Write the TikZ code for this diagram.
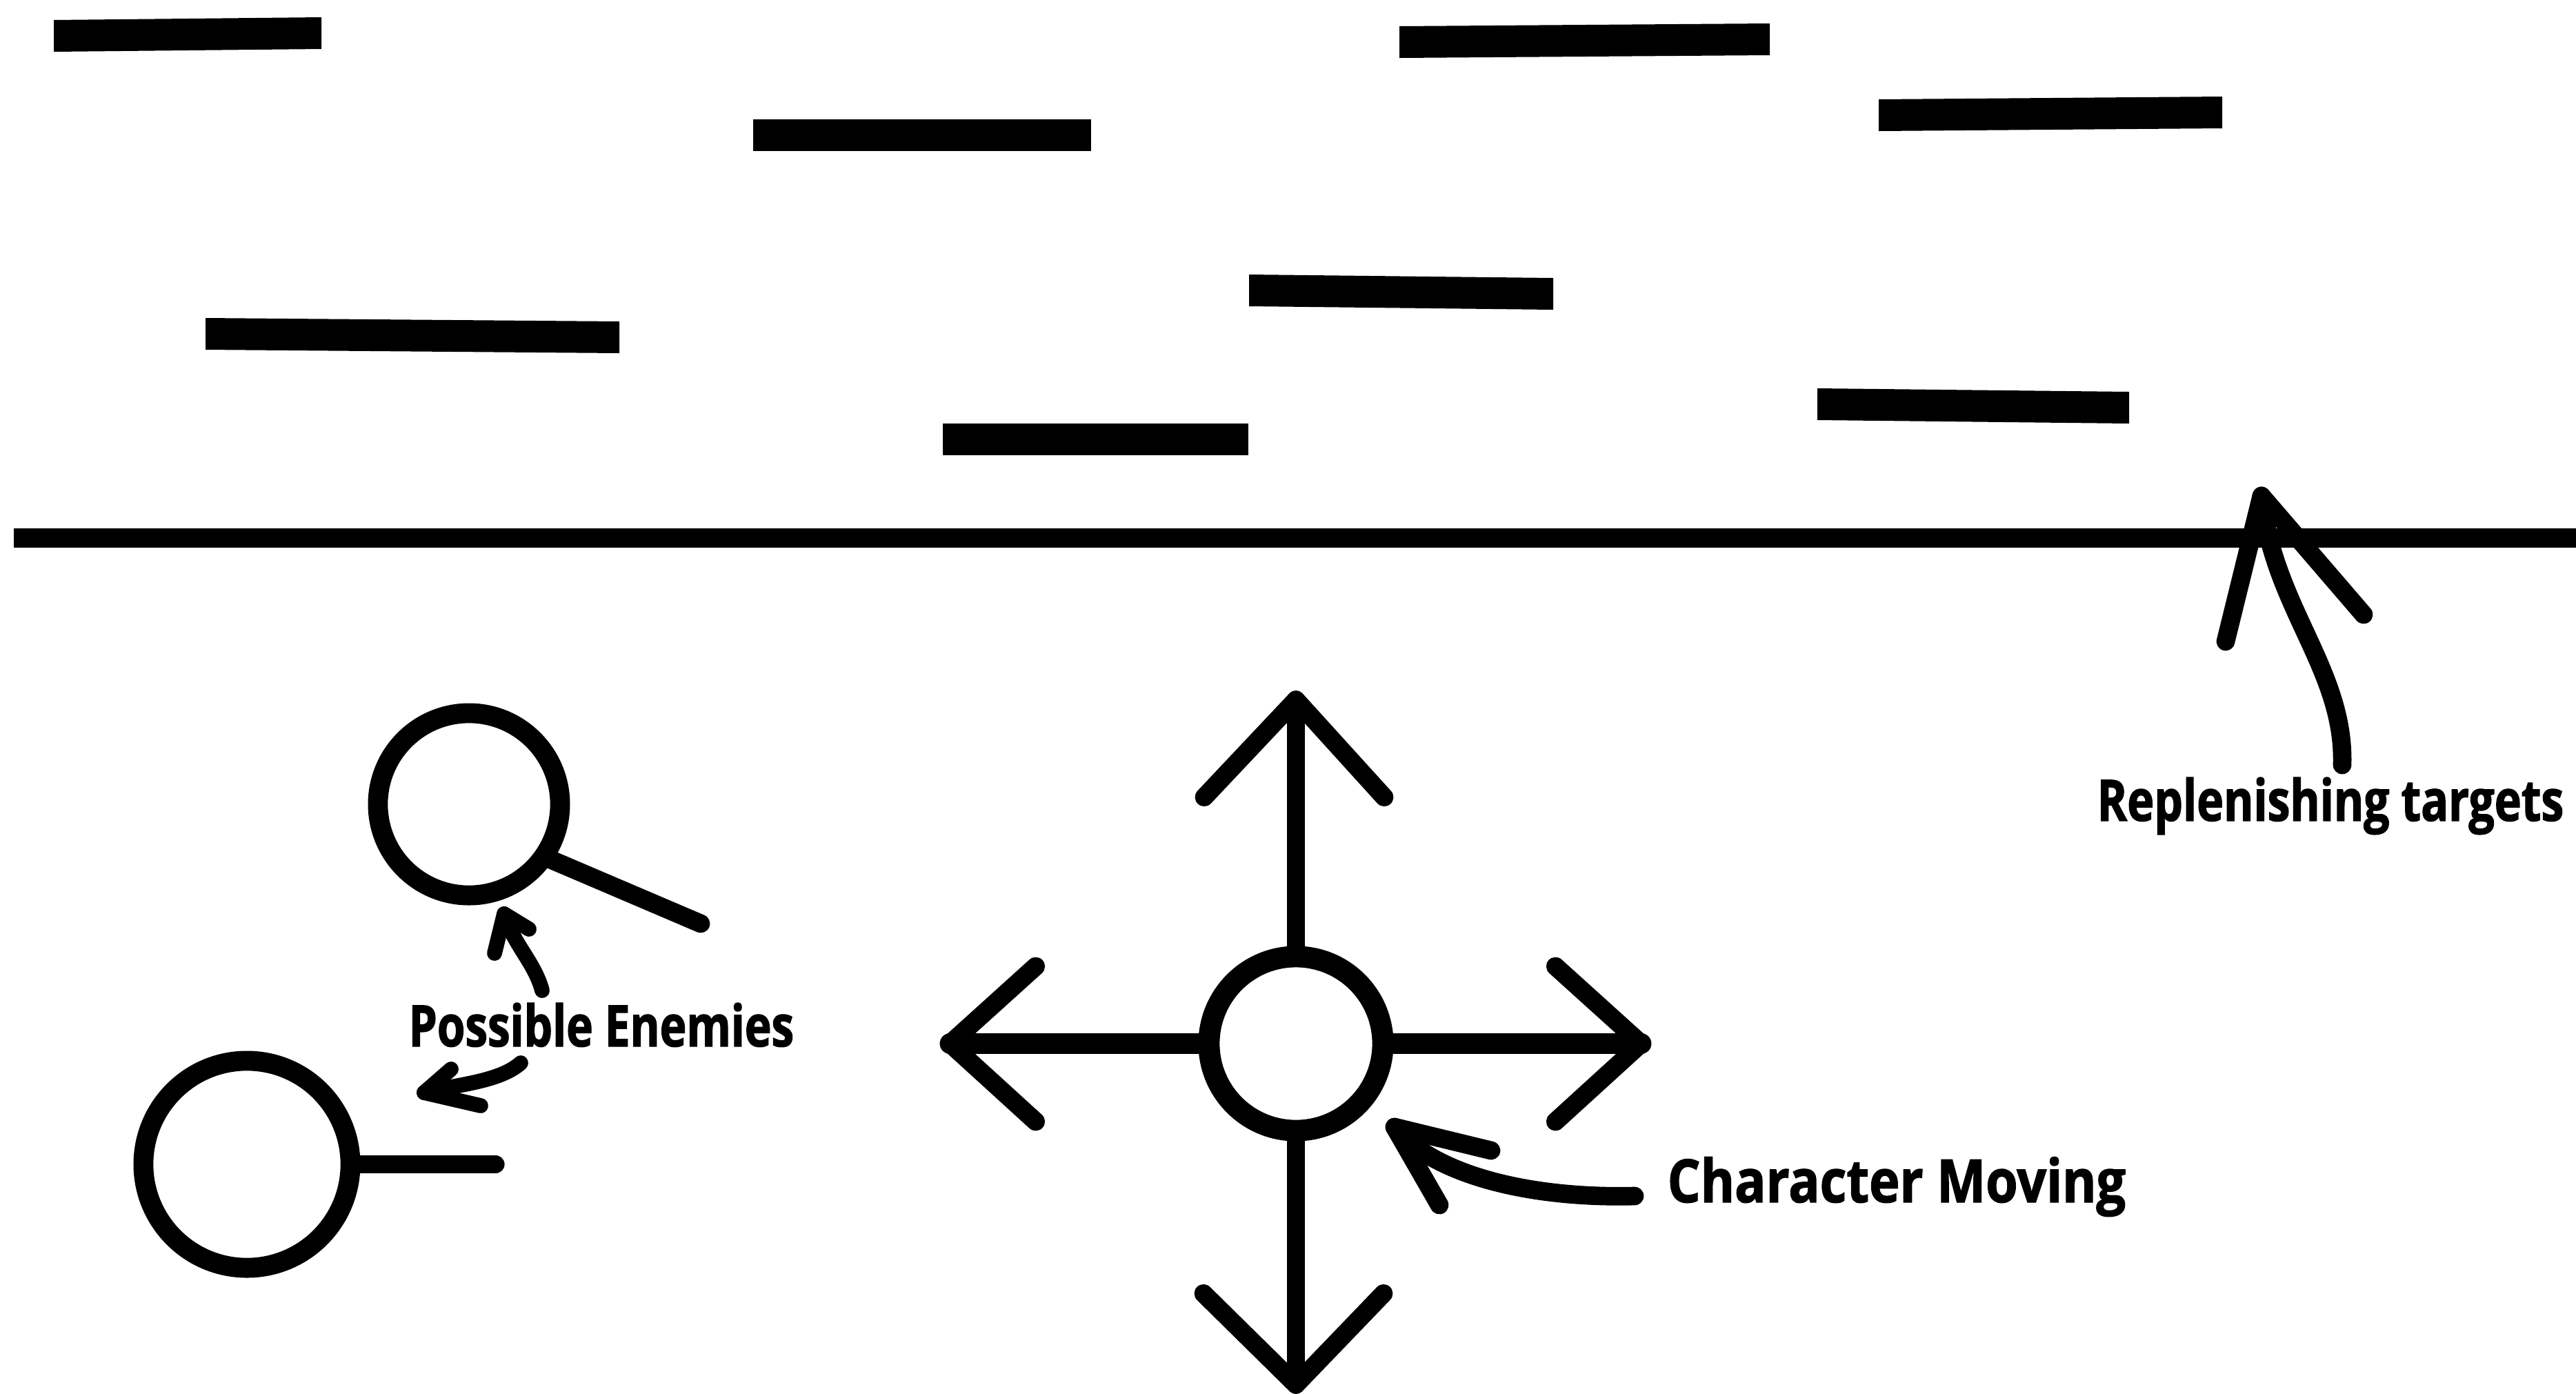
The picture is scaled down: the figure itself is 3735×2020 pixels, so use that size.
\documentclass[tikz,border=0pt]{standalone}
\usepackage{fontspec}
\newfontfamily\tagRT{Open Sans}[FakeStretch=0.795, BoldFeatures={FakeBold=1.5}]
\newfontfamily\tagPE{Open Sans}[FakeStretch=0.79, BoldFeatures={FakeBold=1.5}]
\newfontfamily\tagCM{Open Sans}[FakeStretch=0.87, BoldFeatures={FakeBold=1.5}]
\usetikzlibrary{positioning}

\tikzset{
  pen/.style={line width=7.6pt, line cap=round, line join=round},
  heavy/.style={pen, line width=8.6pt},
  thin pen/.style={pen, line width=6.2pt},
  mob/.style={circle, draw, line width=8.2pt, inner sep=0pt, outer sep=0pt},
  tag/.style={font=\fontsize{23.6}{28}\selectfont\bfseries, inner sep=0pt, anchor=base west},
}

\begin{document}
\begin{tikzpicture}[x=0.01cm, y=-0.01cm]
  \fill[white] (0,0) rectangle (3735,2020);
  \useasboundingbox (0,0) rectangle (3735,2020);

  % targets above the floor line
  \foreach \xl/\yl/\xr/\yr in {78/29/466/25, 1092/173/1582/173, 298/461/898/466,
      1367/614/1810/614, 1811/398/2252/403, 2029/38/2566/34,
      2724/144/3222/140, 2635/563/3087/568}
    \fill (\xl,\yl) -- (\xr,\yr) -- (\xr,\yr+46) -- (\xl,\yl+46) -- cycle;

  \coordinate (floorL) at (20,780);
  \coordinate (floorR) at (3735,780);
  \draw[line width=7.8pt] (floorL) -- (floorR);

  % player
  \node[mob, minimum size=2.52cm, line width=8.8pt] (player) at (1879,1513) {};
  \coordinate[above=3.72cm of player.north] (upTip);
  \coordinate[below=3.68cm of player.south] (downTip);
  \coordinate[left=3.75cm of player.west] (leftTip);
  \coordinate[right=3.74cm of player.east] (rightTip);

  \draw[pen] (player) -- (upTip);
  \draw[pen] (upTip) ++(-133,141) -- (upTip) -- ++(128,141);
  \draw[pen] (player) -- (downTip);
  \draw[pen] (downTip) ++(-134,-132) -- (downTip) -- ++(127,-132);
  \draw[heavy] (player) -- (leftTip);
  \draw[pen] (leftTip) ++(124,-112) -- (leftTip) -- ++(124,113);
  \draw[heavy] (player) -- (rightTip);
  \draw[pen] (rightTip) ++(-124,-112) -- (rightTip) -- ++(-124,113);

  % enemies
  \node[mob, minimum size=2.64cm] (enemyA) at (680,1166) {};
  \node[mob, minimum size=3.0cm] (enemyB) at (358,1688) {};
  \coordinate (handleA) at (1016,1339);
  \coordinate[right=2.1cm of enemyB.east] (handleB);
  \draw[pen] (enemyA.-35) -- (handleA);
  \draw[pen] (enemyB.east) -- (handleB);

  % labels
  \node[tag, font=\tagPE\fontsize{23.6}{28}\selectfont\bfseries] (enemies) at (592,1517) {Possible Enemies};
  \node[tag, font=\tagCM\fontsize{24.6}{28}\selectfont\bfseries] (moving) at (2417,1743) {Character Moving};
  \node[tag, font=\tagRT\fontsize{23.6}{28}\selectfont\bfseries] (refill) at (3040,1190) {Replenishing targets};

  % pointers
  \coordinate (enemyUpTail) at (786,1436);
  \coordinate (enemyUpTip) at (731,1325);
  \draw[thin pen] (enemyUpTail) .. controls (775,1395) and (745,1370) .. (enemyUpTip);
  \draw[thin pen] (enemyUpTip) ++(-14,57) -- (enemyUpTip) -- ++(36,22);

  \coordinate (enemyDnTail) at (755,1541);
  \coordinate (enemyDnTip) at (615,1584);
  \draw[thin pen] (enemyDnTail) .. controls (725,1568) and (665,1572) .. (enemyDnTip);
  \draw[thin pen] (enemyDnTip) ++(39,-34) -- (enemyDnTip) -- ++(82,19);

  \coordinate (moveTail) at (2370,1734);
  \coordinate (moveTip) at (2022,1634);
  \draw[pen] (moveTail) .. controls (2210,1738) and (2075,1700) .. (moveTip);
  \draw[pen] (moveTip) ++(140,34) -- (moveTip) -- ++(65,113);

  \coordinate (refillTail) at (3396,1109);
  \coordinate (refillTip) at (3279,719);
  \draw[pen] (refillTail) .. controls (3400,970) and (3295,880) .. (refillTip);
  \draw[pen] (refillTip) ++(-52,211) -- (refillTip) -- ++(148,172);
\end{tikzpicture}
\end{document}
